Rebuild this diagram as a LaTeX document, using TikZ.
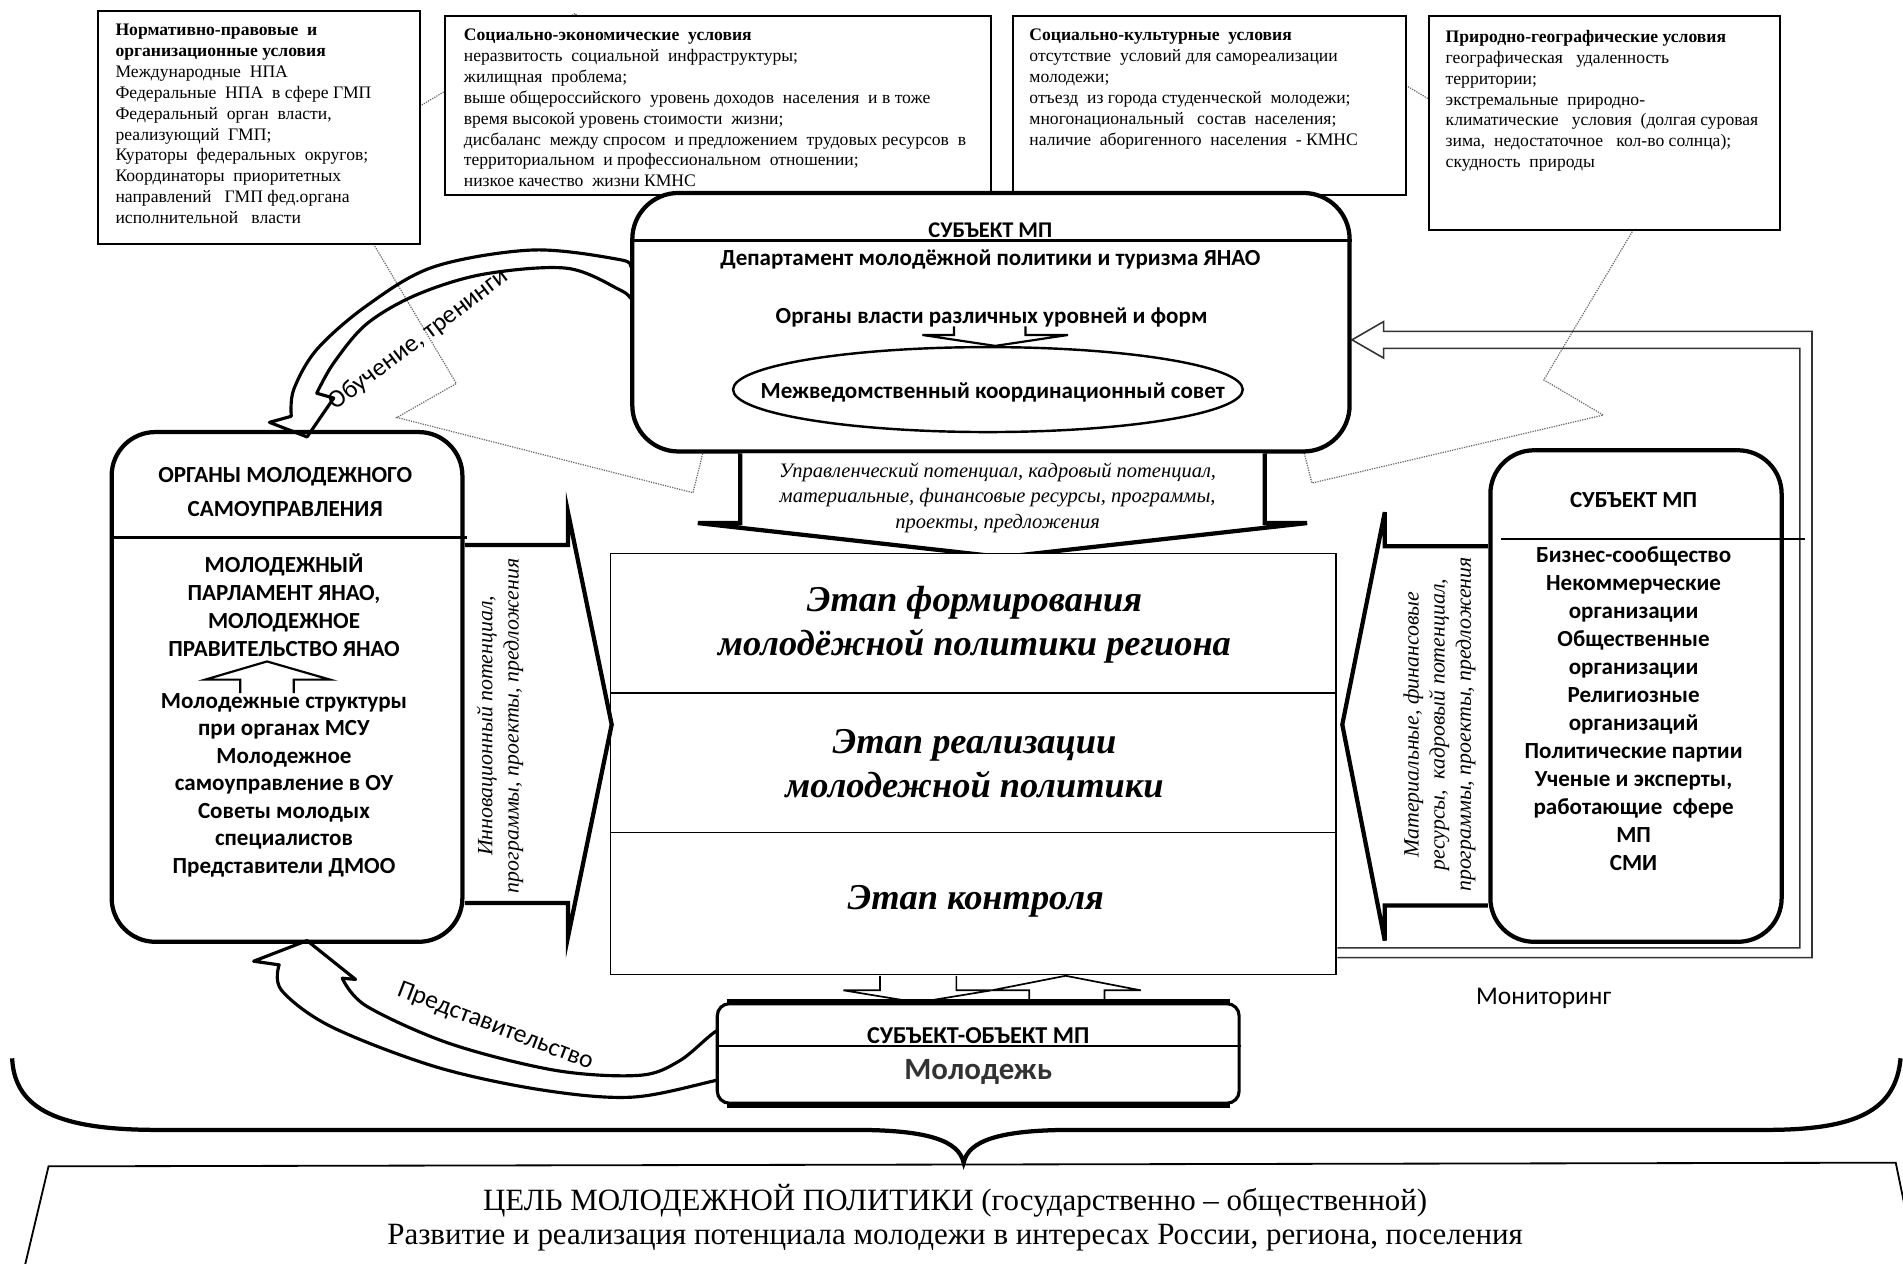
\documentclass[tikz,border=0pt]{standalone}
\usepackage{fontspec}
\setmainfont{Liberation Serif}
\newfontfamily\calib{Carlito}
\usetikzlibrary{shapes.geometric}
\begin{document}
\begin{tikzpicture}[x=1pt,y=-1pt,
  topbox/.style={draw, line width=1.6pt, fill=white, anchor=north west, inner sep=0pt},
  toptext/.style={anchor=north west, inner sep=0pt, align=left, font=\fontsize{14.5}{17.2}\selectfont},
  rbox/.style={draw, line width=3.5pt, fill=white, rounded corners=36pt, inner sep=0pt},
  blk/.style={draw, line width=3.5pt, fill=white, line join=miter},
  smallarrow/.style={draw, line width=1.8pt, fill=white, line join=miter},
  cbf/.style={font=\calib\bfseries\fontsize{19}{23}\selectfont, align=center, inner sep=0pt},
  lbl/.style={font=\calib\fontsize{21}{25}\selectfont, inner sep=0pt},
  stagef/.style={font=\bfseries\itshape\fontsize{30}{36}\selectfont, align=center, inner sep=0pt},
  itf/.style={font=\itshape\fontsize{16.9}{21}\selectfont, align=center, inner sep=0pt},
  sidef/.style={font=\itshape\fontsize{18}{21.5}\selectfont, align=center, inner sep=0pt, rotate=90},
  dotline/.style={densely dotted, line width=1pt, black!60},
  divider/.style={line width=2pt},
  curved/.style={draw, line width=2.6pt, line join=round},
]
\useasboundingbox (0,0) rectangle (1568,1041);
\clip (0,0) rectangle (1568,1041);

% big dotted arrows from the condition boxes
\draw[dotline] (268,134) -- (376,316) -- (327,344) -- (571,406) -- (631,164) -- (582,193) -- (474,11) -- cycle;
\draw[dotline] (1349,184) -- (1272,313) -- (1321,342) -- (1081,398) -- (1020,163) -- (1069,192) -- (1146,63) -- cycle;

% condition boxes
\node[topbox, minimum width=265pt, minimum height=192pt] (b1) at (80,8) {};
\node[topbox, minimum width=450pt, minimum height=148pt] (b2) at (366,12) {};
\node[topbox, minimum width=324pt, minimum height=148pt] (b3) at (834,12) {};
\node[topbox, minimum width=289pt, minimum height=177pt] (b4) at (1177,12) {};

\node[toptext] (t1) at (95,19.7) {\textbf{Нормативно-правовые\ \ и}\\ \textbf{организационные условия}\\ Международные\ \ НПА\\ Федеральные\ \ НПА\ \ в сфере ГМП\\ Федеральный\ \ орган\ \ власти,\\ реализующий\ \ ГМП;\\ Кураторы\ \ федеральных\ \ округов;\\ Координаторы\ \ приоритетных\\ направлений\ \ \ ГМП фед.органа\\ исполнительной\ \ \ власти};
\node[toptext] (t2) at (382,23.7) {\textbf{Социально-экономические\ \ условия}\\ неразвитость\ \ социальной\ \ инфраструктуры;\\ жилищная\ \ проблема;\\ выше общероссийского\ \ уровень доходов\ \ населения\ \ и в тоже\\ время высокой уровень стоимости\ \ жизни;\\ дисбаланс\ \ между спросом\ \ и предложением\ \ трудовых ресурсов\ \ в\\ территориальном\ \ и профессиональном\ \ отношении;\\ низкое качество\ \ жизни КМНС};
\node[toptext] (t3) at (848,23.7) {\textbf{Социально-культурные\ \ условия}\\ отсутствие\ \ условий для самореализации\\ молодежи;\\ отъезд\ \ из города студенческой\ \ молодежи;\\ многонациональный\ \ \ состав\ \ населения;\\ наличие\ \ аборигенного\ \ населения\ \ - КМНС};
\node[toptext] (t4) at (1191,24.7) {\textbf{Природно-географические условия}\\ географическая\ \ \ удаленность\\ территории;\\ экстремальные\ \ природно-\\ климатические\ \ \ условия\ \ (долгая суровая\\ зима,\ \ недостаточное\ \ \ кол-во солнца);\\ скудность\ \ природы};

% left box
\node[rbox, minimum width=289pt, minimum height=420pt] (lbox) at (236.5,566) {};
\draw[divider] (lbox.west |- 0,443) -- (385,443);
\node[cbf, font=\calib\bfseries\fontsize{19}{28}\selectfont] (ltitle) at (235,405) {ОРГАНЫ МОЛОДЕЖНОГО\\САМОУПРАВЛЕНИЯ};
\node[cbf] (lbody1) at (234,498.5) {МОЛОДЕЖНЫЙ\\ПАРЛАМЕНТ ЯНАО,\\МОЛОДЕЖНОЕ\\ПРАВИТЕЛЬСТВО ЯНАО};
\draw[smallarrow] (198,571) -- (198,560) -- (169,560) -- (220,545) -- (272,560) -- (242,560) -- (242,571);
\node[cbf, font=\calib\bfseries\fontsize{19}{22.7}\selectfont] (lbody2) at (234,647) {Молодежные структуры\\при органах МСУ\\Молодежное\\самоуправление в ОУ\\Советы молодых\\специалистов\\Представители ДМОО};

% curved arrow "Обучение, тренинги"
\draw[curved] plot[smooth, tension=0.55] coordinates {(535,230) (521,221) (511,214) (439,206) (357,220) (302,252) (261,288) (242,321) (240,343)} -- (222,348) -- (253,360) -- (275,328) -- (261,324) -- plot[smooth, tension=0.55] coordinates {(261,324) (275,299) (302,267) (343,243) (398,226) (467,221) (511,239) (521,247) (535,258)} -- cycle;
\node[lbl, rotate=37] (lobuch) at (345,280) {Обучение, тренинги};

% monitoring outline arrow
\draw[line width=1.3pt, black!80] (1102,789) -- (1493,789) -- (1493,273) -- (1140,273) -- (1140,265) -- (1114,280) -- (1140,295) -- (1140,287) -- (1483,287) -- (1483,781) -- (1102,781);
\node[lbl] (lmon) at (1272,823) {Мониторинг};

% central subject box
\node[rbox, rounded corners=38pt, minimum width=591pt, minimum height=213pt] (ctop) at (816.5,265.5) {};
\draw[divider, line width=2.6pt] (ctop.west |- 0,198) -- (ctop.east |- 0,198);
\node[cbf, font=\calib\bfseries\fontsize{18.5}{22}\selectfont] (csub) at (816,190) {СУБЪЕКТ МП};
\node[cbf] (cdep) at (816,214) {Департамент молодёжной политики и туризма ЯНАО};
\node[cbf] (corg) at (817,262) {Органы власти различных уровней и форм};
\node[draw, ellipse, line width=2pt, fill=white, minimum width=420pt, minimum height=70pt, inner sep=0pt] (ell) at (814,321) {};
\node[cbf] (cmez) at (818,323) {Межведомственный координационный совет};
\draw[smallarrow] (786,269) -- (786,276) -- (760,276) -- (820,285) -- (880,276) -- (845,276) -- (845,269);

% down block arrow
\draw[blk] (610,373.5) -- (610,431) -- (575,431) -- (826,459) -- (1077,431) -- (1042,431) -- (1042,373.5);
\node[itf] (cres) at (822,410) {Управленческий потенциал, кадровый потенциал,\\материальные, финансовые ресурсы, программы,\\проекты, предложения};

% stage box
\node[draw, line width=1.5pt, fill=white, minimum width=598pt, minimum height=347pt, inner sep=0pt] (stage) at (802,629.5) {};
\draw[line width=1.5pt] (stage.west |- 0,571) -- (stage.east |- 0,571);
\draw[line width=1.5pt] (stage.west |- 0,686) -- (stage.east |- 0,686);
\node[stagef] (s1) at (803,515) {Этап формирования\\молодёжной политики региона};
\node[stagef] (s2) at (803,629.5) {Этап реализации\\молодежной политики};
\node[stagef] (s3) at (804,743) {Этап контроля};

% left block arrow
\draw[blk] (383,449) -- (468,449) -- (468,422) -- (504,597) -- (468,772) -- (468,744) -- (383,744);
\node[sidef] (lside) at (412,598) {Инновационный потенциал,\\программы, проекты, предложения};

% right box
\node[rbox, minimum width=240pt, minimum height=405pt] (rbx) at (1348,573.5) {};
\draw[divider] (1237,444) -- (1487,444);
\node[cbf] (rtitle) at (1346,412) {СУБЪЕКТ МП};
\node[cbf, font=\calib\bfseries\fontsize{19}{23.1}\selectfont] (rbody) at (1346,584) {Бизнес-сообщество\\Некоммерческие\\организации\\Общественные\\организации\\Религиозные\\организаций\\Политические партии\\Ученые и эксперты,\\работающие\ \ сфере\\МП\\СМИ};

% right block arrow
\draw[blk] (1226,450) -- (1141,450) -- (1141,422) -- (1106,597) -- (1141,775) -- (1141,746) -- (1226,746);
\node[sidef] (rside) at (1186,597) {Материальные, финансовые\\ресурсы,\ \ кадровый потенциал,\\программы, проекты, предложения};

% small arrows between stage box and youth box
\draw[smallarrow, line width=1.4pt] (725,804) -- (725,816) -- (695,816) -- (756,826) -- (817,816) -- (788,816) -- (788,804);
\draw[smallarrow, line width=1.4pt] (848,826) -- (848,816) -- (817,816) -- (878,804) -- (940,816) -- (910,816) -- (910,826);

% curved arrow "Представительство"
\draw[curved] plot[smooth, tension=0.55] coordinates {(610,845) (591,849) (560,874) (527,886) (458,882) (371,860) (302,829) (282,806)} -- (293,807) -- (253,775) -- (209,792) -- (230,795) -- plot[smooth, tension=0.55] coordinates {(230,795) (232,816) (273,846) (359,879) (446,898) (521,904) (591,890) (610,886)} -- cycle;
\node[lbl, rotate=-21] (lpred) at (408,846) {Представительство};

% youth box
\node[draw, line width=2.6pt, fill=white, rounded corners=10pt, minimum width=430pt, minimum height=82pt, inner sep=0pt] (ybox) at (806,868) {};
\draw[line width=4.5pt] ([xshift=9pt]ybox.north west) -- ([xshift=-9pt]ybox.north east);
\draw[line width=4.5pt] ([xshift=9pt]ybox.south west) -- ([xshift=-9pt]ybox.south east);
\draw[line width=1.5pt] (ybox.west |- 0,862) -- (ybox.east |- 0,862);
\node[cbf, font=\calib\bfseries\fontsize{20}{23}\selectfont] (ysub) at (806,853) {СУБЪЕКТ-ОБЪЕКТ МП};
\node[cbf, font=\calib\bfseries\fontsize{25.5}{29}\selectfont, text=black!80] (ymol) at (806,883) {Молодежь};

% brace
\draw[line width=3.5pt] (10,872) .. controls (12,915) and (50,931) .. (130,931) -- (705,931) .. controls (765,931) and (790,940) .. (794,958) .. controls (798,940) and (823,931) .. (883,931) -- (1455,931) .. controls (1530,931) and (1562,915) .. (1566,872);

% goal box
\draw[line width=1.5pt] (20,1045) -- (40,961) -- (1562,958) -- (1580,1045);
\node[font=\fontsize{25.5}{28}\selectfont, align=center, inner sep=0pt] (goal) at (787,1003) {ЦЕЛЬ МОЛОДЕЖНОЙ ПОЛИТИКИ (государственно – общественной)\\Развитие и реализация потенциала молодежи в интересах России, региона, поселения};
\end{tikzpicture}
\end{document}
